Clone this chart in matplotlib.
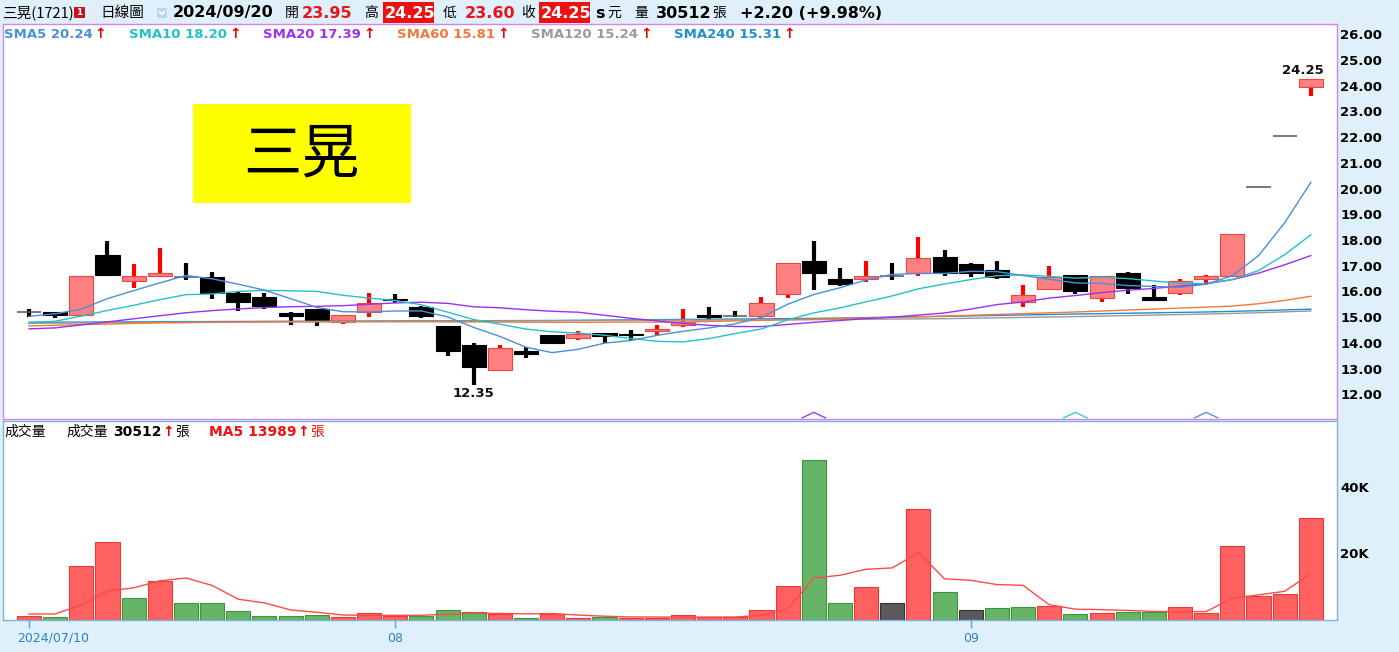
import matplotlib
matplotlib.use('Agg')
import matplotlib.pyplot as plt
import matplotlib.transforms as mtransforms
from matplotlib.patches import Rectangle
import numpy as np

plt.rcParams['font.family'] = ['DejaVu Sans', 'Noto Sans CJK TC']
CJK = ['Noto Sans CJK TC', 'DejaVu Sans']

# ---------------- data ----------------
dates = ['2024/07/10', '08', '09']          # x tick labels
date_idx = [0, 14, 36]                      # candle index of each tick label

opens = [15.20, 15.20, 15.10, 17.40, 16.40, 16.60, 16.55, 16.55, 15.95, 15.80,
         15.15, 15.30, 14.80, 15.20, 15.70, 15.40, 14.65, 13.90, 12.95, 13.70,
         14.30, 14.20, 14.40, 14.35, 14.45, 14.70, 15.10, 15.05, 15.05, 15.90,
         17.20, 16.50, 16.50, 16.60, 16.70, 17.35, 17.05, 16.85, 15.60, 16.10,
         16.65, 15.75, 16.70, 15.80, 15.95, 16.50, 16.60, 20.05, 22.05, 23.95]
highs = [15.30, 15.20, 16.60, 17.95, 17.05, 17.70, 17.10, 16.75, 16.00, 15.95,
         15.20, 15.30, 15.10, 15.95, 15.90, 15.45, 14.65, 14.00, 13.90, 13.85,
         14.30, 14.45, 14.40, 14.50, 14.70, 15.30, 15.40, 15.25, 15.80, 17.10,
         17.95, 16.90, 17.20, 17.10, 18.10, 17.60, 17.10, 17.20, 16.25, 17.00,
         16.65, 16.60, 16.75, 16.25, 16.50, 16.65, 18.25, 20.05, 22.05, 24.25]
lows = [15.00, 14.95, 15.05, 16.60, 16.15, 16.60, 16.45, 15.70, 15.25, 15.30,
        14.70, 14.65, 14.75, 15.00, 15.55, 14.95, 13.50, 12.35, 12.95, 13.40,
        14.00, 14.10, 14.00, 14.10, 14.30, 14.60, 14.90, 15.00, 14.95, 15.75,
        16.05, 16.20, 16.35, 16.45, 16.60, 16.60, 16.55, 16.50, 15.40, 16.10,
        15.90, 15.60, 15.90, 15.65, 15.85, 16.25, 16.60, 20.05, 22.05, 23.60]
closes = [15.20, 15.10, 16.60, 16.65, 16.60, 16.70, 16.55, 15.95, 15.60, 15.45,
          15.05, 14.85, 15.10, 15.55, 15.65, 15.05, 13.70, 13.05, 13.80, 13.55,
          14.00, 14.35, 14.25, 14.30, 14.55, 14.80, 15.00, 15.05, 15.55, 17.10,
          16.70, 16.30, 16.60, 16.60, 17.30, 16.70, 16.70, 16.55, 15.85, 16.55,
          16.00, 16.60, 16.15, 15.65, 16.40, 16.60, 18.25, 20.05, 22.05, 24.25]
# closes of the 19 sessions before the first candle (for the moving averages)
prior_closes = [14.30, 14.25, 14.35, 14.20, 14.30, 14.25, 14.30, 14.30, 14.35, 14.40,
                14.55, 14.60, 14.45, 14.60, 14.50, 14.60, 15.70, 14.60, 15.05]

volumes = [1200, 800, 16200, 23400, 6700, 11800, 5000, 5000, 2700, 1200,
           1200, 1500, 900, 2100, 1300, 1300, 3000, 2500, 1700, 700,
           1800, 700, 800, 600, 600, 1600, 800, 900, 3000, 10200,
           48000, 5100, 9900, 5000, 33300, 8500, 2900, 3500, 3800, 4300,
           1800, 2100, 2400, 2300, 3800, 2100, 22100, 7300, 7800, 30512]
prior_volumes = [800, 2500, 2500, 2000]

sma60_idx = [0, 5, 10, 15, 20, 25, 30, 35, 40, 45, 46, 47, 48, 49]
sma60_val = [14.66, 14.78, 14.82, 14.82, 14.80, 14.81, 14.92, 15.04, 15.20, 15.39, 15.43, 15.52, 15.65, 15.81]
sma120_idx = [0, 10, 20, 30, 35, 40, 45, 47, 49]
sma120_val = [14.76, 14.82, 14.86, 14.90, 14.94, 15.02, 15.12, 15.17, 15.24]
sma240_idx = [0, 10, 20, 30, 35, 40, 45, 47, 49]
sma240_val = [14.80, 14.84, 14.87, 14.95, 15.03, 15.12, 15.20, 15.25, 15.31]

marker_idx = [30, 40, 45]
marker_colors = ['#a040e0', '#40c8d0', '#5a90d8']

legend_labels = ['SMA5 20.24', 'SMA10 18.20', 'SMA20 17.39', 'SMA60 15.81', 'SMA120 15.24', 'SMA240 15.31']
legend_x = [4, 129, 263, 397, 531, 674]
C5, C10, C20, C60, C120, C240 = '#4a8fdc', '#22c2c8', '#9b30f0', '#f07a3c', '#9a9a9a', '#1f8fd0'
legend_colors = [C5, C10, C20, C60, C120, C240]

# ---------------- figure ----------------
W, H = 1399, 652
fig = plt.figure(figsize=(W / 100, H / 100), dpi=100)
BG = '#dff0fb'
fig.patch.set_facecolor(BG)

def fx(x):
    return x / W

def fy(y):
    return 1 - y / H

LEFT, RIGHT = 3, 1337
x0_px, step_px = 29.0, 26.16
xlim = ((LEFT - x0_px) / step_px, (RIGHT - x0_px) / step_px)

ax_p = fig.add_axes([fx(LEFT), fy(418.7), (RIGHT - LEFT) / W, (418.7 - 24) / H])
ax_v = fig.add_axes([fx(LEFT), fy(620), (RIGHT - LEFT) / W, (620 - 421.3) / H])

n = len(closes)
idx = np.arange(n)
O = np.array(opens); Hh = np.array(highs); L = np.array(lows); Cc = np.array(closes)

# ---------------- price panel ----------------
ax_p.set_facecolor('white')
ax_p.set_xlim(*xlim)
ax_p.set_ylim(11.051, 26.397)
for s in ax_p.spines.values():
    s.set_color('#d884e6')
    s.set_linewidth(1.0)

up = Cc > O
dn = Cc < O
dj = Cc == O
BW = 0.92
wick_col = np.where(up, '#ff0000', '#000000')
has_range = Hh > L
ax_p.vlines(idx[has_range], L[has_range], Hh[has_range], colors=wick_col[has_range], linewidth=3.0, zorder=2)
ax_p.bar(idx[up], (Cc - O)[up], bottom=O[up], width=BW, color='#ff8080', edgecolor='#f04444', linewidth=0.8, zorder=3)
ax_p.bar(idx[dn], (O - Cc)[dn], bottom=Cc[dn], width=BW, color='#000000', edgecolor='#000000', linewidth=0.8, zorder=3)
ax_p.hlines(Cc[dj], idx[dj] - BW / 2, idx[dj] + BW / 2, colors='#555555', linewidth=1.1, zorder=3)

allc = np.array(prior_closes + closes)
def sma(arr, k, offset):
    return np.array([arr[offset + i - k + 1: offset + i + 1].mean() for i in range(n)])
po = len(prior_closes)
sma5 = sma(allc, 5, po)
sma10 = sma(allc, 10, po)
sma20 = sma(allc, 20, po)
ax_p.plot(sma240_idx, sma240_val, color=C240, lw=1.0, zorder=5)
ax_p.plot(sma120_idx, sma120_val, color=C120, lw=1.0, zorder=5)
ax_p.plot(sma60_idx, sma60_val, color=C60, lw=1.0, zorder=5)
ax_p.plot(idx, sma20, color=C20, lw=1.0, zorder=5)
ax_p.plot(idx, sma10, color=C10, lw=1.0, zorder=5)
ax_p.plot(idx, sma5, color=C5, lw=1.0, zorder=5)

btrans = mtransforms.blended_transform_factory(ax_p.transData, ax_p.transAxes)
for mi, mc in zip(marker_idx, marker_colors):
    ax_p.plot([mi - 0.45, mi, mi + 0.45], [0.002, 0.016, 0.002], color=mc, lw=1.0,
              transform=btrans, zorder=6, clip_on=False)

imax = int(np.argmax(Hh)); imin = int(np.argmin(L))
ax_p.annotate(f'{highs[imax]:.2f}', (imax, highs[imax]), xytext=(-6, 6), textcoords='offset points',
              ha='center', va='center', fontsize=9.5, fontweight='bold', color='#111111', zorder=7)
ax_p.annotate(f'{lows[imin]:.2f}', (imin, lows[imin]), xytext=(0, -6), textcoords='offset points',
              ha='center', va='center', fontsize=9.5, fontweight='bold', color='#111111', zorder=7)

ax_p.set_xticks([])
ax_p.yaxis.tick_right()
ax_p.set_yticks(np.arange(12, 27, 1))
ax_p.set_yticklabels([f'{v:.2f}' for v in np.arange(12, 27, 1)], fontsize=9.5, fontweight='bold')
ax_p.tick_params(axis='y', length=0, pad=2.5, colors='black')

# ---------------- volume panel ----------------
V = np.array(volumes, dtype=float)
ax_v.set_facecolor('white')
ax_v.set_xlim(*xlim)
ax_v.set_ylim(0, 59670)
for s in ax_v.spines.values():
    s.set_color('#80b2dc')
    s.set_linewidth(1.0)
prev = np.array([prior_closes[-1]] + closes[:-1])
vcol = np.where(Cc > prev, '#ff6060', np.where(Cc < prev, '#66b566', '#5a5a5e'))
ecol = np.where(Cc > prev, '#e83a3a', np.where(Cc < prev, '#3c943c', '#333336'))
ax_v.bar(idx, V, width=BW, color=vcol, edgecolor=ecol, linewidth=0.8, zorder=2)
allv = np.array(prior_volumes + volumes, dtype=float)
pv = len(prior_volumes)
vma5 = np.array([allv[pv + i - 4: pv + i + 1].mean() for i in range(n)])
ax_v.plot(idx, vma5, color='#ff4a4a', lw=1.0, zorder=3)

ax_v.yaxis.tick_right()
ax_v.set_yticks([20000, 40000])
ax_v.set_yticklabels(['20K', '40K'], fontsize=9.5, fontweight='bold')
ax_v.tick_params(axis='y', length=0, pad=2.5, colors='black')
ax_v.set_xticks(date_idx)
ax_v.set_xticklabels([])
ax_v.tick_params(axis='x', direction='out', length=6, width=1, color='#5a9fd6')

dtrans = mtransforms.blended_transform_factory(ax_v.transData, fig.transFigure)
for k, (d, di) in enumerate(zip(dates, date_idx)):
    if k == 0:
        ax_v.text(di - 0.46, fy(638), d, transform=dtrans, ha='left', va='center', fontsize=9, color='#2a82c6')
    else:
        ax_v.text(di, fy(638), d, transform=dtrans, ha='center', va='center', fontsize=9, color='#2a82c6')

# ---------------- texts ----------------
def put(x, y, s, size=10, color='black', weight='normal', family=None, ha='left', **kw):
    kwargs = dict(fontsize=size, color=color, fontweight=weight, ha=ha, va='center',
                  transform=fig.transFigure)
    if family is not None:
        kwargs['family'] = family
    kwargs.update(kw)
    return fig.text(fx(x), fy(y), s, **kwargs)

RED = '#e8141c'
HN = 11.5   # header number size
HC = 10     # header CJK size
renderer = fig.canvas.get_renderer()

put(2, 13, '三晃(1721)', 10.5, family=CJK)
fig.add_artist(Rectangle((fx(74), fy(17.5)), 11 / W, 10.5 / H, transform=fig.transFigure,
                         fc='#c8101e', ec='none'))
put(79.5, 12.5, '1', 6.5, 'white', 'bold', ha='center')
put(100, 13, '日線圖', 10.5, family=CJK)
fig.add_artist(Rectangle((fx(157), fy(18)), 10 / W, 10 / H, transform=fig.transFigure,
                         fc='#b4d6f0', ec='none'))
fig.add_artist(plt.Line2D([fx(159.5), fx(162), fx(164.5)], [fy(11.5), fy(14.5), fy(11.5)],
                          transform=fig.transFigure, color='white', lw=1.2))
put(173, 13, '2024/09/20', HN, 'black', 'bold')
put(285, 13, '開', HC, family=CJK)
put(302, 13, '23.95', HN, RED, 'bold')
put(364, 13, '高', HC, family=CJK)
fig.add_artist(Rectangle((fx(383), fy(23)), 51 / W, 21 / H, transform=fig.transFigure, fc='#ee1111', ec='none'))
put(385, 13, '24.25', HN, 'white', 'bold')
put(443, 13, '低', HC, family=CJK)
put(465, 13, '23.60', HN, RED, 'bold')
put(521, 13, '收', HC, family=CJK)
fig.add_artist(Rectangle((fx(539), fy(23)), 51 / W, 21 / H, transform=fig.transFigure, fc='#ee1111', ec='none'))
put(541, 13, '24.25', HN, 'white', 'bold')
put(595, 13, 's', HN, 'black', 'bold')
put(607, 13, '元', HC, family=CJK)
put(634, 13, '量', HC, family=CJK)
put(656, 13, '30512', HN, 'black', 'bold')
put(712, 13, '張', HC, family=CJK)
put(740, 13, '+2.20 (+9.98%)', HN, 'black', 'bold')

for lab, col, x in zip(legend_labels, legend_colors, legend_x):
    t = put(x, 34, lab, 9.5, col, 'bold')
    bb = t.get_window_extent(renderer)
    put(bb.x1 + 2, 33.5, '↑', 10, '#ee0000', 'bold')

put(4, 432, '成交量', 10, family=CJK)
put(66, 432, '成交量', 10, family=CJK)
t = put(113, 432, '30512', 10, 'black', 'bold')
bb = t.get_window_extent(renderer)
t = put(bb.x1 + 1, 431.5, '↑', 10, '#ee0000', 'bold')
bb = t.get_window_extent(renderer)
put(bb.x1 + 1, 432, '張', 10, family=CJK)
t = put(209, 432, 'MA5 13989', 10, '#ee1111', 'bold')
bb = t.get_window_extent(renderer)
t = put(bb.x1 + 1, 431.5, '↑', 10, '#ee0000', 'bold')
bb = t.get_window_extent(renderer)
put(bb.x1 + 1, 432, '張', 10, '#ee1111', family=CJK)

fig.add_artist(Rectangle((fx(193), fy(203)), (411 - 193) / W, (203 - 104) / H, transform=fig.transFigure,
                         fc='#ffff00', ec='none', zorder=10))
put(302, 155, '三晃', 42, 'black', family=CJK, ha='center', zorder=11)

fig.savefig('out.png', dpi=100, facecolor=BG)
